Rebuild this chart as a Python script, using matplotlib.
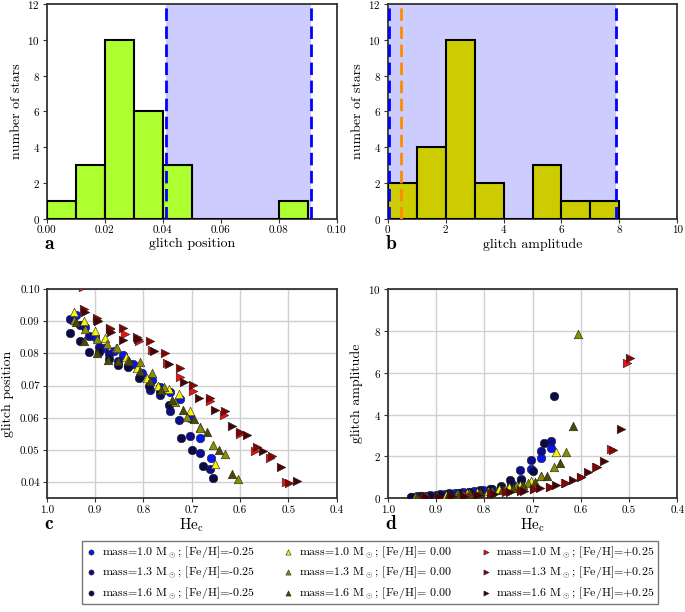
import numpy as np
import matplotlib
matplotlib.use('Agg')
import matplotlib.pyplot as plt

plt.rcParams['font.family'] = ['cmr10', 'DejaVu Serif']
plt.rcParams['mathtext.fontset'] = 'cm'
plt.rcParams['axes.formatter.use_mathtext'] = True
plt.rcParams['axes.unicode_minus'] = False

# ---- histogram data (top panels), left bin edges + counts ----
pos_bins = [0.00, 0.01, 0.02, 0.03, 0.04, 0.05, 0.06, 0.07, 0.08]
pos_counts = [1, 3, 10, 6, 3, 0, 0, 0, 1]
amp_bins = [0, 1, 2, 3, 4, 5, 6, 7]
amp_counts = [2, 4, 10, 2, 0, 3, 1, 1]

pos_range = [0.041, 0.091]
amp_range = [0.06, 7.88]
amp_extra = 0.45

# ---- model tracks (bottom panels): He_c, glitch position, glitch amplitude ----
he_10m = [0.939, 0.921, 0.900, 0.881, 0.860, 0.843, 0.822, 0.803, 0.783, 0.766, 0.745, 0.724, 0.703, 0.683, 0.661]
pos_10m = [0.0919, 0.0883, 0.0852, 0.0818, 0.0808, 0.0795, 0.0767, 0.0738, 0.0718, 0.0697, 0.0679, 0.0658, 0.0599, 0.0537, 0.0475]
amp_10m = [0.10, 0.13, 0.17, 0.20, 0.24, 0.28, 0.33, 0.38, 0.45, 0.55, 0.70, 0.92, 1.42, 1.91, 2.39]

he_13m = [0.952, 0.931, 0.912, 0.892, 0.872, 0.852, 0.831, 0.808, 0.786, 0.766, 0.745, 0.726, 0.703, 0.682, 0.662]
pos_13m = [0.0907, 0.0888, 0.0853, 0.0820, 0.0797, 0.0775, 0.0760, 0.0730, 0.0686, 0.0670, 0.0622, 0.0592, 0.0543, 0.0492, 0.0441]
amp_13m = [0.08, 0.11, 0.15, 0.19, 0.23, 0.27, 0.32, 0.38, 0.45, 0.58, 0.75, 1.35, 1.83, 2.28, 2.75]

he_16m = [0.952, 0.931, 0.912, 0.892, 0.872, 0.852, 0.831, 0.810, 0.788, 0.766, 0.747, 0.723, 0.700, 0.677, 0.655]
pos_16m = [0.0862, 0.0839, 0.0804, 0.0803, 0.0782, 0.0765, 0.0758, 0.0723, 0.0700, 0.0680, 0.0640, 0.0537, 0.0499, 0.0449, 0.0412]
amp_16m = [0.07, 0.10, 0.13, 0.17, 0.21, 0.25, 0.30, 0.36, 0.43, 0.55, 0.88, 0.88, 1.31, 2.66, 4.89]

he_10z = [0.943, 0.922, 0.900, 0.879, 0.857, 0.836, 0.814, 0.793, 0.769, 0.748, 0.726, 0.703, 0.683, 0.652]
pos_10z = [0.0928, 0.0901, 0.0870, 0.0847, 0.0818, 0.0790, 0.0756, 0.0725, 0.0700, 0.0689, 0.0674, 0.0622, 0.0570, 0.0458]
amp_10z = [0.06, 0.09, 0.12, 0.15, 0.19, 0.23, 0.28, 0.34, 0.42, 0.52, 0.64, 0.84, 1.07, 2.23]

he_13z = [0.943, 0.920, 0.897, 0.876, 0.855, 0.831, 0.808, 0.783, 0.757, 0.734, 0.710, 0.683, 0.655, 0.631, 0.605]
pos_13z = [0.0904, 0.0875, 0.0845, 0.0829, 0.0818, 0.0780, 0.0773, 0.0739, 0.0697, 0.0648, 0.0603, 0.0568, 0.0515, 0.0486, 0.0410]
amp_13z = [0.06, 0.09, 0.12, 0.15, 0.19, 0.23, 0.28, 0.36, 0.46, 0.60, 0.72, 1.07, 1.50, 2.23, 7.85]

he_16z = [0.940, 0.922, 0.897, 0.874, 0.852, 0.830, 0.808, 0.786, 0.763, 0.741, 0.719, 0.695, 0.669, 0.643, 0.617]
pos_16z = [0.0898, 0.0837, 0.0800, 0.0779, 0.0777, 0.0775, 0.0746, 0.0715, 0.0687, 0.0654, 0.0624, 0.0595, 0.0555, 0.0499, 0.0426]
amp_16z = [0.05, 0.08, 0.11, 0.14, 0.17, 0.21, 0.26, 0.32, 0.40, 0.50, 0.64, 0.80, 1.08, 1.70, 3.47]

he_10p = [0.925, 0.896, 0.869, 0.838, 0.810, 0.783, 0.752, 0.724, 0.697, 0.663, 0.633, 0.600, 0.569, 0.538, 0.505]
pos_10p = [0.1005, 0.0905, 0.0875, 0.0860, 0.0839, 0.0811, 0.0770, 0.0728, 0.0684, 0.0653, 0.0610, 0.0550, 0.0496, 0.0475, 0.0401]
amp_10p = [0.05, 0.08, 0.11, 0.14, 0.18, 0.24, 0.33, 0.38, 0.43, 0.53, 0.73, 1.03, 1.51, 2.36, 6.45]

he_13p = [0.923, 0.895, 0.869, 0.842, 0.814, 0.786, 0.755, 0.724, 0.697, 0.663, 0.631, 0.600, 0.566, 0.534, 0.498]
pos_13p = [0.0938, 0.0909, 0.0880, 0.0878, 0.0852, 0.0837, 0.0801, 0.0756, 0.0703, 0.0663, 0.0622, 0.0555, 0.0508, 0.0480, 0.0398]
amp_13p = [0.04, 0.07, 0.10, 0.13, 0.17, 0.22, 0.30, 0.37, 0.42, 0.53, 0.73, 1.03, 1.51, 2.31, 6.69]

he_16p = [0.920, 0.893, 0.866, 0.842, 0.812, 0.779, 0.746, 0.717, 0.684, 0.652, 0.617, 0.585, 0.552, 0.516, 0.483]
pos_16p = [0.0930, 0.0900, 0.0866, 0.0842, 0.0845, 0.0806, 0.0767, 0.0710, 0.0663, 0.0624, 0.0573, 0.0546, 0.0496, 0.0446, 0.0405]
amp_16p = [0.04, 0.06, 0.09, 0.12, 0.16, 0.21, 0.28, 0.35, 0.48, 0.64, 0.88, 1.24, 1.80, 3.31, 12.0]

msun = r'$\mathrm{M}_\odot$'
series = [
    (he_10m, pos_10m, amp_10m, 'o', '#0a14f0', 'mass=1.0 ' + msun + '; [Fe/H]=-0.25'),
    (he_13m, pos_13m, amp_13m, 'o', '#0c0c8c', 'mass=1.3 ' + msun + '; [Fe/H]=-0.25'),
    (he_16m, pos_16m, amp_16m, 'o', '#0a0a4a', 'mass=1.6 ' + msun + '; [Fe/H]=-0.25'),
    (he_10z, pos_10z, amp_10z, '^', '#f5f50a', 'mass=1.0 ' + msun + '; [Fe/H]= 0.00'),
    (he_13z, pos_13z, amp_13z, '^', '#8c8c00', 'mass=1.3 ' + msun + '; [Fe/H]= 0.00'),
    (he_16z, pos_16z, amp_16z, '^', '#4a4a00', 'mass=1.6 ' + msun + '; [Fe/H]= 0.00'),
    (he_10p, pos_10p, amp_10p, '>', '#f01010', 'mass=1.0 ' + msun + '; [Fe/H]=+0.25'),
    (he_13p, pos_13p, amp_13p, '>', '#8c0000', 'mass=1.3 ' + msun + '; [Fe/H]=+0.25'),
    (he_16p, pos_16p, amp_16p, '>', '#4a0000', 'mass=1.6 ' + msun + '; [Fe/H]=+0.25'),
]

fig = plt.figure(figsize=(6.85, 6.12), dpi=100)
ax_a = fig.add_axes([0.0682, 0.6422, 0.4234, 0.3513])
ax_b = fig.add_axes([0.5660, 0.6422, 0.4228, 0.3513])
ax_c = fig.add_axes([0.0682, 0.1858, 0.4234, 0.3420])
ax_d = fig.add_axes([0.5660, 0.1858, 0.4228, 0.3420])

span_col = '#ccccff'
dash_kw = dict(lw=2, ls=(0, (4.5, 2)))
lab_fs = 10


def hist_panel(ax, bins, counts, color, xlim, xticks, fmt):
    width = bins[1] - bins[0]
    ax.bar(bins, counts, width=width, align='edge', color=color,
           edgecolor='black', linewidth=1.5, zorder=3)
    ax.set_xlim(*xlim)
    ax.set_ylim(0, 12)
    ax.set_yticks(range(0, 13, 2))
    ax.set_xticks(xticks)
    ax.set_xticklabels([fmt.format(t) for t in xticks])
    ax.set_ylabel('number of stars', fontsize=lab_fs, labelpad=3)


hist_panel(ax_a, pos_bins, pos_counts, '#adff2f', (0, 0.1),
           [0, 0.02, 0.04, 0.06, 0.08, 0.10], '{:.2f}')
ax_a.axvspan(pos_range[0], pos_range[1], color=span_col, zorder=1, lw=0)
for v in pos_range:
    ax_a.axvline(v, color='#0000ff', zorder=4, **dash_kw)
ax_a.set_xlabel('glitch position', fontsize=lab_fs, labelpad=2)

hist_panel(ax_b, amp_bins, amp_counts, '#cccc00', (0, 10),
           [0, 2, 4, 6, 8, 10], '{:d}')
ax_b.axvspan(amp_range[0], amp_range[1], color=span_col, zorder=1, lw=0)
for v in amp_range:
    ax_b.axvline(v, color='#0000ff', zorder=4, **dash_kw)
ax_b.axvline(amp_extra, color='#ff8c00', zorder=4, **dash_kw)
ax_b.set_xlabel('glitch amplitude', fontsize=lab_fs, labelpad=2)

for he, pos, amp, mk, col, lab in series:
    ax_c.scatter(he, pos, marker=mk, s=38, c=col, edgecolors='#222222',
                 linewidths=0.4, zorder=3, label=lab)
    ax_d.scatter(he, amp, marker=mk, s=38, c=col, edgecolors='#222222',
                 linewidths=0.4, zorder=3)

for ax in (ax_c, ax_d):
    ax.set_xlim(1.0, 0.4)
    ax.set_xticks([1.0, 0.9, 0.8, 0.7, 0.6, 0.5, 0.4])
    ax.set_xticklabels(['1.0', '0.9', '0.8', '0.7', '0.6', '0.5', '0.4'])
    ax.grid(True, color='#d0d0d0', lw=1.0, zorder=0)
    ax.set_axisbelow(True)
    ax.set_xlabel(r'He$_\mathrm{c}$', fontsize=lab_fs + 1, labelpad=1)

ax_c.set_ylim(0.035, 0.10)
ax_c.set_yticks([0.04, 0.05, 0.06, 0.07, 0.08, 0.09, 0.10])
ax_c.set_yticklabels(['0.04', '0.05', '0.06', '0.07', '0.08', '0.09', '0.10'])
ax_c.set_ylabel('glitch position', fontsize=lab_fs, labelpad=4)

ax_d.set_ylim(0, 10)
ax_d.set_yticks(range(0, 11, 2))
ax_d.set_ylabel('glitch amplitude', fontsize=lab_fs, labelpad=4)

for ax in (ax_a, ax_b, ax_c, ax_d):
    ax.tick_params(labelsize=8, color='#333333', length=3, pad=2)
    for s in ax.spines.values():
        s.set_color('#333333')
        s.set_linewidth(1.3)

# panel letters
for ax, letter, yoff in ((ax_a, 'a', -0.075), (ax_b, 'b', -0.075),
                         (ax_c, 'c', -0.08), (ax_d, 'd', -0.08)):
    ax.text(-0.01, yoff, r'$\mathbf{' + letter + '}$', transform=ax.transAxes,
            fontsize=14, ha='left', va='top')

handles, labels = ax_c.get_legend_handles_labels()
fig.legend(handles, labels, loc='lower center', ncol=3,
           bbox_to_anchor=(0.54, 0.003), fontsize=8.6, frameon=True,
           fancybox=False, edgecolor='#555555', markerscale=0.6,
           handletextpad=0.4, columnspacing=2.3, borderpad=0.25,
           labelspacing=0.4, handlelength=1.0)

fig.savefig('out.png', dpi=100)
